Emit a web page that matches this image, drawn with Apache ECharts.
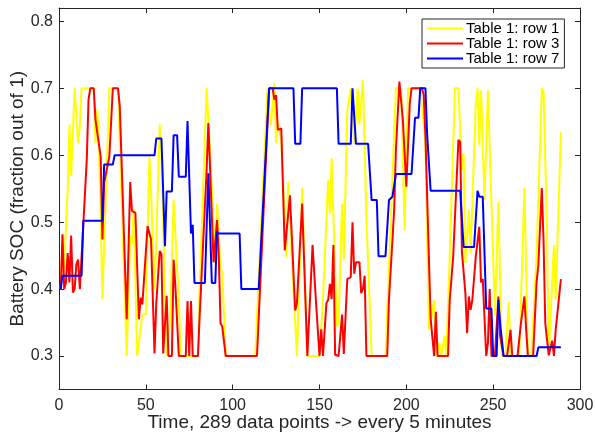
<!DOCTYPE html>
<html>
<head>
<meta charset="utf-8">
<script src="https://cdn.jsdelivr.net/npm/echarts@6/dist/echarts.min.js"></script>
<style>
  html, body { margin: 0; padding: 0; background: #fff; }
  #chart { width: 595px; height: 433px; }
</style>
</head>
<body>
<div id="chart"></div>
<script>
// [time index, SOC] vertices
var row1 = [[1,0.40],[2,0.47],[3,0.43],[4,0.494],[5,0.55],[6,0.646],[7,0.569],[9,0.70],[10,0.70],[11,0.618],[12,0.643],[13,0.70],[20,0.70],[21,0.618],[22,0.668],[23,0.62],[25,0.385],[27,0.541],[29,0.70],[34,0.70],[39,0.30],[41,0.48],[42,0.467],[43,0.52],[45,0.30],[46,0.30],[48,0.362],[50,0.362],[52,0.598],[53,0.546],[55,0.40],[56,0.47],[58,0.646],[59,0.603],[61,0.40],[62,0.30],[64,0.355],[66,0.533],[69,0.384],[70,0.30],[80,0.30],[81,0.404],[85,0.70],[86,0.70],[87,0.603],[90,0.439],[91,0.528],[93,0.43],[94,0.426],[96,0.30],[113,0.30],[120,0.70],[122,0.645],[124,0.708],[125,0.618],[126,0.65],[128,0.62],[131,0.448],[132,0.56],[134,0.45],[137,0.30],[140,0.551],[143,0.30],[150,0.30],[152,0.384],[153,0.384],[155,0.563],[156,0.513],[157,0.596],[160,0.344],[161,0.35],[163,0.528],[164,0.444],[166,0.666],[168,0.70],[169,0.70],[170,0.617],[172,0.70],[173,0.646],[175,0.713],[177,0.508],[180,0.30],[188,0.30],[194,0.70],[197,0.70],[199,0.488],[201,0.70],[208,0.70],[211,0.62],[213,0.339],[214,0.35],[216,0.384],[217,0.30],[219,0.32],[220,0.30],[222,0.33],[223,0.30],[225,0.45],[228,0.70],[230,0.70],[232,0.578],[233,0.603],[234,0.439],[236,0.518],[237,0.453],[240,0.678],[241,0.70],[242,0.615],[243,0.697],[245,0.533],[247,0.697],[251,0.36],[253,0.53],[255,0.30],[257,0.30],[259,0.381],[260,0.30],[265,0.30],[268,0.551],[270,0.30],[272,0.30],[275,0.45],[278,0.70],[279,0.695],[281,0.488],[282,0.30],[283,0.30],[285,0.466],[286,0.384],[289,0.635]];

var row3 = [[1,0.40],[2,0.482],[3,0.40],[4,0.41],[5,0.454],[6,0.41],[7,0.48],[8,0.395],[9,0.40],[10,0.437],[11,0.444],[12,0.40],[13,0.40],[16,0.594],[17,0.683],[18,0.70],[20,0.70],[21,0.653],[22,0.653],[24,0.598],[25,0.474],[26,0.559],[27,0.561],[29,0.598],[31,0.70],[34,0.70],[35,0.673],[39,0.355],[41,0.56],[42,0.517],[44,0.514],[46,0.355],[47,0.387],[48,0.377],[49,0.377],[51,0.494],[53,0.474],[55,0.304],[56,0.378],[58,0.457],[59,0.452],[60,0.304],[61,0.304],[62,0.39],[63,0.30],[65,0.30],[66,0.444],[67,0.404],[69,0.30],[73,0.30],[74,0.382],[75,0.30],[76,0.382],[77,0.30],[80,0.30],[81,0.36],[82,0.361],[85,0.578],[86,0.648],[87,0.58],[89,0.44],[91,0.503],[92,0.45],[93,0.349],[94,0.344],[96,0.30],[114,0.30],[121,0.70],[123,0.70],[124,0.683],[125,0.69],[126,0.638],[128,0.64],[130,0.458],[133,0.54],[136,0.368],[137,0.379],[140,0.528],[143,0.30],[146,0.466],[148,0.38],[150,0.30],[151,0.34],[152,0.30],[154,0.379],[155,0.384],[156,0.408],[157,0.385],[158,0.466],[159,0.302],[161,0.30],[162,0.302],[163,0.362],[164,0.303],[166,0.415],[168,0.418],[169,0.50],[170,0.423],[171,0.44],[173,0.44],[174,0.394],[175,0.40],[176,0.42],[177,0.30],[189,0.30],[190,0.384],[191,0.384],[193,0.518],[194,0.608],[196,0.71],[198,0.653],[200,0.553],[202,0.678],[203,0.70],[209,0.70],[210,0.69],[211,0.628],[214,0.356],[215,0.356],[216,0.30],[217,0.366],[218,0.30],[224,0.30],[225,0.384],[227,0.449],[230,0.623],[231,0.62],[232,0.456],[233,0.458],[234,0.394],[235,0.334],[236,0.389],[237,0.369],[238,0.384],[240,0.449],[242,0.493],[243,0.41],[244,0.415],[246,0.30],[247,0.32],[248,0.40],[249,0.30],[251,0.30],[253,0.389],[254,0.33],[256,0.30],[258,0.30],[260,0.339],[261,0.30],[264,0.30],[266,0.349],[268,0.389],[269,0.339],[270,0.30],[273,0.30],[275,0.41],[276,0.435],[278,0.551],[279,0.473],[280,0.349],[282,0.301],[283,0.30],[284,0.323],[285,0.30],[286,0.339],[289,0.415]];

var row7 = [[1,0.40],[2,0.42],[13,0.42],[14,0.502],[25,0.502],[26,0.586],[31,0.586],[32,0.60],[55,0.60],[56,0.625],[59,0.625],[61,0.464],[62,0.546],[65,0.546],[66,0.63],[68,0.63],[69,0.568],[73,0.568],[74,0.651],[76,0.483],[77,0.496],[78,0.409],[84,0.409],[86,0.573],[88,0.409],[90,0.409],[91,0.486],[92,0.483],[104,0.483],[105,0.40],[115,0.40],[121,0.70],[135,0.70],[136,0.617],[139,0.617],[140,0.70],[160,0.70],[161,0.617],[168,0.617],[169,0.70],[171,0.617],[178,0.617],[180,0.533],[183,0.533],[184,0.449],[188,0.449],[190,0.533],[192,0.538],[194,0.572],[203,0.572],[205,0.656],[207,0.656],[208,0.70],[211,0.70],[212,0.63],[213,0.63],[214,0.547],[231,0.547],[233,0.463],[239,0.463],[241,0.547],[242,0.538],[244,0.538],[246,0.371],[249,0.371],[250,0.30],[252,0.30],[253,0.384],[254,0.349],[256,0.30],[275,0.30],[276,0.313],[289,0.313]];

var seriesNames = ['Table 1: row 1', 'Table 1: row 3', 'Table 1: row 7'];
var seriesColors = ['#ffff00', '#ff0000', '#0000ff'];
var xTicks = [0, 50, 100, 150, 200, 250, 300];
var yTicks = [0.3, 0.4, 0.5, 0.6, 0.7, 0.8];

var font = '"Liberation Sans", Arial, Helvetica, sans-serif';
var axisColor = '#262626';

var chart = echarts.init(document.getElementById('chart'), null, { renderer: 'canvas' });

function lineSeries(name, data, color) {
  return {
    name: name,
    type: 'line',
    data: data,
    symbol: 'none',
    animation: false,
    lineStyle: { color: color, width: 2 },
    itemStyle: { color: color }
  };
}

var baseX = {
  type: 'value', min: 0, max: 300, interval: 50,
  axisLine: { onZero: false, lineStyle: { color: axisColor, width: 1 } },
  axisTick: { inside: true, length: 5, lineStyle: { color: axisColor } },
  splitLine: { show: false }
};
var baseY = {
  type: 'value', min: 0.25, max: 0.82,
  axisLine: { onZero: false, lineStyle: { color: axisColor, width: 1 } },
  axisTick: { inside: true, length: 5, customValues: yTicks, lineStyle: { color: axisColor } },
  splitLine: { show: false }
};

chart.setOption({
  backgroundColor: '#fff',
  animation: false,
  textStyle: { fontFamily: font },
  grid: { left: 59, right: 15, top: 8, bottom: 43.5, containLabel: false, outerBoundsMode: 'none' },
  legend: {
    orient: 'vertical',
    left: 422, top: 19,
    icon: 'rect',
    itemWidth: 36, itemHeight: 2, itemGap: 0,
    padding: [2, 5, 2, 5],
    borderColor: axisColor, borderWidth: 1,
    backgroundColor: '#fff',
    textStyle: { fontSize: 15, lineHeight: 15, height: 15, color: '#000', fontFamily: font, padding: [0, 0, 0, -2] },
    data: seriesNames
  },
  xAxis: [
    Object.assign({}, baseX, {
      position: 'bottom',
      name: 'Time, 289 data points -> every 5 minutes',
      nameLocation: 'middle', nameGap: 24, nameMoveOverlap: false,
      nameTextStyle: { fontSize: 19, color: axisColor, fontFamily: font },
      axisLabel: { fontSize: 16, color: axisColor, margin: 8, fontFamily: font, customValues: xTicks }
    }),
    Object.assign({}, baseX, { position: 'top', axisLabel: { show: false } })
  ],
  yAxis: [
    Object.assign({}, baseY, {
      position: 'left',
      name: 'Battery SOC (fraction out of 1)',
      nameLocation: 'middle', nameGap: 32, nameMoveOverlap: false,
      nameTextStyle: { fontSize: 19, color: axisColor, fontFamily: font },
      axisLabel: {
        fontSize: 16, color: axisColor, margin: 6, fontFamily: font,
        customValues: yTicks,
        formatter: function (v) { return v.toFixed(1); }
      }
    }),
    Object.assign({}, baseY, { position: 'right', axisLabel: { show: false } })
  ],
  series: [
    lineSeries(seriesNames[0], row1, seriesColors[0]),
    lineSeries(seriesNames[1], row3, seriesColors[1]),
    lineSeries(seriesNames[2], row7, seriesColors[2])
  ]
});
</script>
</body>
</html>
